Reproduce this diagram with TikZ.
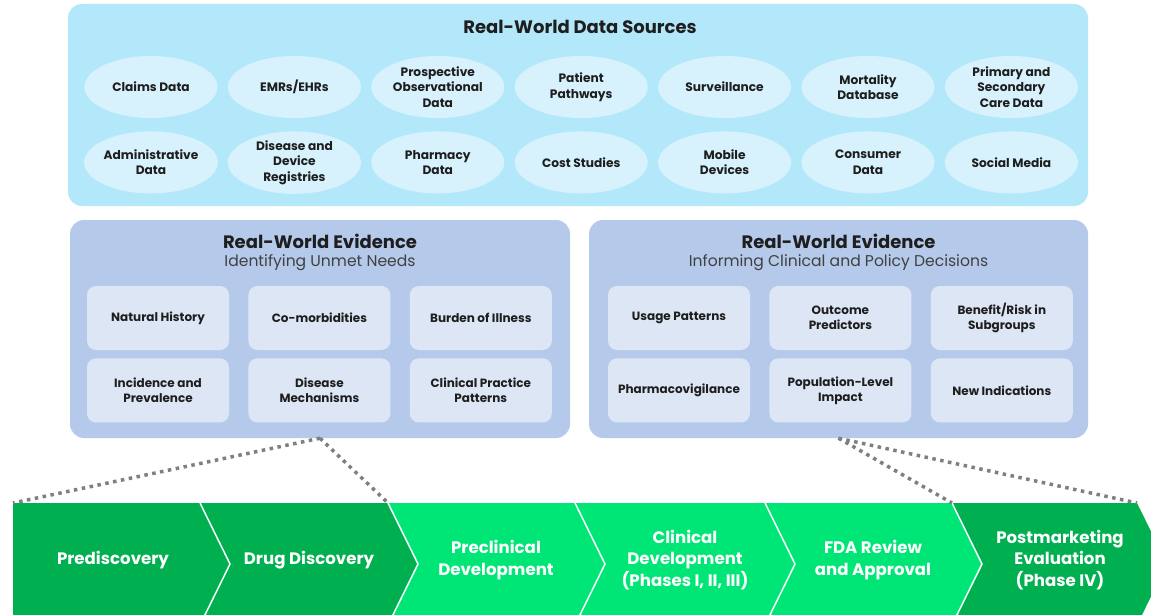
\documentclass[tikz,border=0pt]{standalone}
\usepackage{fontspec}
\setmainfont{Poppins}
\usetikzlibrary{positioning,shapes.geometric}
\definecolor{srcblue}{HTML}{B3E8FA}
\definecolor{ovalblue}{HTML}{D7F2FC}
\definecolor{rweblue}{HTML}{B5CAEB}
\definecolor{boxblue}{HTML}{DDE6F5}
\definecolor{darkgreen}{HTML}{00B050}
\definecolor{lightgreen}{HTML}{00E676}
\definecolor{dotgray}{HTML}{7F7F7F}
\definecolor{inkblack}{HTML}{1E1E1E}

\begin{document}
\begin{tikzpicture}[x=1pt,y=1pt,
panel/.style={rectangle,rounded corners=14pt,inner sep=0pt},
src/.style={ellipse,fill=ovalblue,minimum width=133pt,minimum height=62pt,inner sep=0pt,align=center,text=inkblack,font=\fontsize{12.2}{15.5}\selectfont\bfseries},
rwe/.style={rectangle,rounded corners=9pt,fill=boxblue,minimum width=142pt,minimum height=64pt,inner sep=0pt,align=center,text=inkblack,font=\fontsize{12}{15}\selectfont\bfseries},
title/.style={text=inkblack,font=\fontsize{18}{21}\selectfont\bfseries},
subtitle/.style={text=inkblack!85,font=\fontsize{15.6}{18}\selectfont},
stage/.style={text=white,align=center,font=\fontsize{16.6}{21.5}\selectfont\bfseries},
link/.style={draw=dotgray,line width=3.5pt,dash pattern=on 3.5pt off 4.5pt}]

\useasboundingbox (0,0) rectangle (1151,-615);
\clip (0,0) rectangle (1151,-615);

% panels
\node[panel,fill=srcblue,minimum width=1020pt,minimum height=202pt] (sources) at (578,-105) {};
\node[panel,fill=rweblue,minimum width=500pt,minimum height=218pt] (needs) at (320,-329) {};
\node[panel,fill=rweblue,minimum width=499pt,minimum height=218pt] (decisions) at (838.5,-329) {};

% panel titles
\node[title] (srctitle) at (580,-27) {Real-World Data Sources};
\node[title] (needstitle) at (320,-241) {Real-World Evidence};
\node[subtitle] (needssub) at (320,-263) {Identifying Unmet Needs};
\node[title] (decistitle) at (838.5,-241) {Real-World Evidence};
\node[subtitle] (decissub) at (838.5,-263) {Informing Clinical and Policy Decisions};

% data sources
\node[src] (claims) at (151,-87) {Claims Data};
\node[src,right=10pt of claims] (emr) {EMRs/EHRs};
\node[src,right=10pt of emr] (prosp) {Prospective\\Observational\\Data};
\node[src,right=10pt of prosp] (pathways) {Patient\\Pathways};
\node[src,right=10pt of pathways] (surveil) {Surveillance};
\node[src,right=10pt of surveil] (mortality) {Mortality\\Database};
\node[src,right=10pt of mortality] (primary) {Primary and\\Secondary\\Care Data};

\node[src,below=13pt of claims] (admin) {Administrative\\Data};
\node[src,below=13pt of emr] (registry) {Disease and\\Device\\Registries};
\node[src,below=13pt of prosp] (pharmacy) {Pharmacy\\Data};
\node[src,below=13pt of pathways] (cost) {Cost Studies};
\node[src,below=13pt of surveil] (mobile) {Mobile\\Devices};
\node[src,below=13pt of mortality] (consumer) {Consumer\\Data};
\node[src,below=13pt of primary] (social) {Social Media};

% unmet needs
\node[rwe] (natural) at (158,-318) {Natural History};
\node[rwe,right=19pt of natural] (comorb) {Co-morbidities};
\node[rwe,right=19pt of comorb] (burden) {Burden of Illness};
\node[rwe,below=8pt of natural] (incid) {Incidence and\\Prevalence};
\node[rwe,below=8pt of comorb] (mechan) {Disease\\Mechanisms};
\node[rwe,below=8pt of burden] (practice) {Clinical Practice\\Patterns};

% clinical and policy decisions
\node[rwe] (usage) at (679,-318) {Usage Patterns};
\node[rwe,right=19pt of usage] (outcome) {Outcome\\Predictors};
\node[rwe,right=19pt of outcome] (benefit) {Benefit/Risk in\\Subgroups};
\node[rwe,below=8pt of usage] (pharmvig) {Pharmacovigilance};
\node[rwe,below=8pt of outcome] (popimpact) {Population-Level\\Impact};
\node[rwe,below=8pt of benefit] (newind) {New Indications};

% stages
\fill[darkgreen] (13,-503) -- (200,-503) -- (230,-564) -- (200,-625) -- (13,-625) -- cycle;
\fill[darkgreen] (200,-503) -- (388,-503) -- (418,-564) -- (388,-625) -- (200,-625) -- (230,-564) -- cycle;
\fill[lightgreen] (388,-503) -- (575,-503) -- (605,-564) -- (575,-625) -- (388,-625) -- (418,-564) -- cycle;
\fill[lightgreen] (575,-503) -- (765,-503) -- (795,-564) -- (765,-625) -- (575,-625) -- (605,-564) -- cycle;
\fill[lightgreen] (765,-503) -- (952,-503) -- (982,-564) -- (952,-625) -- (765,-625) -- (795,-564) -- cycle;
\fill[darkgreen] (952,-503) -- (1137,-503) -- (1167,-564) -- (1137,-625) -- (952,-625) -- (982,-564) -- cycle;
\foreach \b in {200,388,575,765,952}
  \draw[white,line width=1.5pt] (\b,-503) -- (\b+30,-564) -- (\b,-625);

\node[stage] (predisc) at (113,-560) {Prediscovery};
\node[stage] (drugdisc) at (309,-560) {Drug Discovery};
\node[stage] (preclin) at (496,-560) {Preclinical\\Development};
\node[stage] (clindev) at (685,-560) {Clinical\\Development\\(Phases I, II, III)};
\node[stage] (fda) at (873,-560) {FDA Review\\and Approval};
\node[stage] (postmark) at (1060,-560) {Postmarketing\\Evaluation\\(Phase IV)};

% links to the pipeline
\coordinate (c0) at (13,-503);
\coordinate (c2) at (388,-503);
\coordinate (c5) at (952,-503);
\coordinate (c6) at (1137,-503);
\draw[link] (needs.south) -- (c0);
\draw[link] (needs.south) -- (c2);
\draw[link] (decisions.south) -- (c5);
\draw[link] (decisions.south) -- (c6);
\end{tikzpicture}
\end{document}
